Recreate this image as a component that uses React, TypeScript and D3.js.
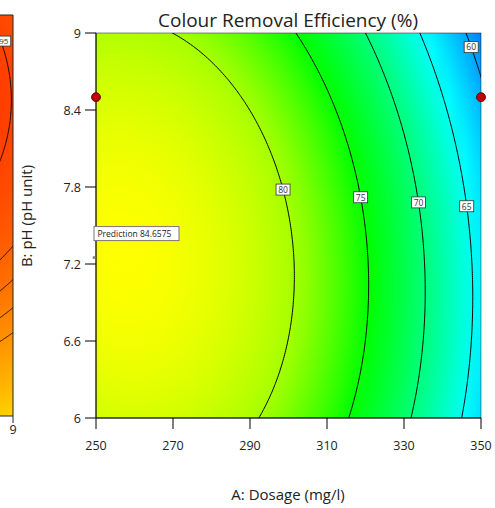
import React from "react";
import * as d3 from "d3";

// Axis ticks
const dosageTicks = [250, 270, 290, 310, 330, 350];
const phTicks = [6, 6.6, 7.2, 7.8, 8.4, 9];

// Contour levels and the pH at which each level carries its label
const contourLevels = [60, 65, 70, 75, 80];
const labelPH = [8.89, 7.65, 7.68, 7.72, 7.78];

// Quadratic model in coded factors (A: dosage, B: pH)
const modelTerms = ["Intercept", "A", "B", "AB", "A²", "B²"];
const modelCoefficients = [80.11, -10.47, -1.6, -0.72, -6.02, -3.07];

// Design points and prediction flag
const designDosage = [250, 350];
const designPH = [8.5, 8.5];
const predictionDosage = 250;
const predictionPH = 7.25;
const predictionValue = 84.6575;

// Colour ramp
const colorValues = [52, 64.5, 75, 80, 84.8, 97];
const colorStops = ["#0000ff", "#00ffff", "#00ff00", "#a6ff00", "#ffff00", "#ff0000"];

// Neighbouring panel: peak, centre u, centre v, curvature (coded units)
const sideCoefficients = [101, 0.184, 0.576, 9.2];
const sideLevels = [95, 90, 87.5, 85, 82.5];
const sideLabelV = 0.87;
const sideColorValues = [70, 96];
const sideColorStops = ["#ffe100", "#ff3c00"];
const sideTicks = [9];

const W = 495;
const H = 508;
const P = { left: 96, right: 481, top: 33, bottom: 418 };
const FONT = "'Open Sans', 'Noto Sans', sans-serif";

const xScale = d3.scaleLinear().domain([250, 350]).range([P.left, P.right]);
const yScale = d3.scaleLinear().domain([6, 9]).range([P.bottom, P.top]);
const codeA = (a: number) => (a - 300) / 50;
const codeB = (b: number) => (b - 7.5) / 1.5;

const basis = (x: number, y: number) => [1, x, y, x * y, x * x, y * y];
const predict = (a: number, b: number) =>
  basis(codeA(a), codeB(b)).reduce((s, v, i) => s + v * modelCoefficients[i], 0);

const colorScale = d3
  .scaleLinear<string>()
  .domain(colorValues)
  .range(colorStops)
  .interpolate(d3.interpolateRgb)
  .clamp(true);

// Neighbouring panel geometry (coded u, v in [-1, 1])
const sideX = d3.scaleLinear().domain([-1, 1]).range([-372, 13]);
const sideY = d3.scaleLinear().domain([-1, 1]).range([416, 15]);
const sidePredict = (u: number, v: number) => {
  const [peak, cu, cv, k] = sideCoefficients;
  return peak - k * ((u - cu) ** 2 + (v - cv) ** 2);
};
const sideColor = d3
  .scaleLinear<string>()
  .domain(sideColorValues)
  .range(sideColorStops)
  .interpolate(d3.interpolateRgb)
  .clamp(true);

function dosageOnLevel(level: number, ph: number) {
  let lo = 240, hi = 360;
  for (let i = 0; i < 60; i++) {
    const mid = (lo + hi) / 2;
    if (predict(mid, ph) > level) lo = mid;
    else hi = mid;
  }
  return (lo + hi) / 2;
}

export default function App() {
  // main response grid
  const gx0 = 245, gx1 = 355, gy0 = 5.85, gy1 = 9.15;
  const nx = 221, ny = 221;
  const dx = (gx1 - gx0) / (nx - 1);
  const dy = (gy1 - gy0) / (ny - 1);
  const values: number[] = new Array(nx * ny);
  for (let j = 0; j < ny; j++)
    for (let i = 0; i < nx; i++) values[i + j * nx] = predict(gx0 + i * dx, gy0 + j * dy);
  const contours = d3.contours().size([nx, ny]).thresholds(contourLevels)(values);
  const proj = d3.geoTransform({
    point(px: number, py: number) {
      (this as any).stream.point(xScale(gx0 + (px - 0.5) * dx), yScale(gy0 + (py - 0.5) * dy));
    },
  });
  const path = d3.geoPath(proj);

  // neighbouring panel grid
  const su0 = 0.92, su1 = 1.06, sv0 = -1.06, sv1 = 1.06;
  const snx = 57, sny = 213;
  const sdu = (su1 - su0) / (snx - 1);
  const sdv = (sv1 - sv0) / (sny - 1);
  const svals: number[] = new Array(snx * sny);
  for (let j = 0; j < sny; j++)
    for (let i = 0; i < snx; i++) svals[i + j * snx] = sidePredict(su0 + i * sdu, sv0 + j * sdv);
  const sideContours = d3.contours().size([snx, sny]).thresholds(sideLevels)(svals);
  const sproj = d3.geoTransform({
    point(px: number, py: number) {
      (this as any).stream.point(sideX(su0 + (px - 0.5) * sdu), sideY(sv0 + (py - 0.5) * sdv));
    },
  });
  const spath = d3.geoPath(sproj);

  const rowH = 2;
  const rows = d3.range(P.top, P.bottom, rowH);
  const stopT = d3.range(0, 1.0001, 1 / 24);
  const sideRows = d3.range(15, 416, rowH);

  const sideLabelU = (() => {
    const [peak, cu, cv, k] = sideCoefficients;
    const r2 = (peak - sideLevels[0]) / k;
    return cu + Math.sqrt(Math.max(0, r2 - (sideLabelV - cv) ** 2));
  })();

  const predX = xScale(predictionDosage);
  const predY = yScale(predictionPH);

  return (
    <svg width={W} height={H} style={{ position: "absolute", left: 0, top: 0, background: "#fff" }} fontFamily={FONT}>
      <defs>
        <clipPath id="plot-clip">
          <rect x={P.left} y={P.top} width={P.right - P.left} height={P.bottom - P.top} />
        </clipPath>
        <clipPath id="side-clip">
          <rect x={0} y={15} width={13} height={401} />
        </clipPath>
        {rows.map((r, i) => {
          const ph = yScale.invert(r + rowH / 2);
          return (
            <linearGradient id={`row-${i}`} key={i} x1="0" x2="1" y1="0" y2="0">
              {stopT.map((t, k) => (
                <stop key={k} offset={t} stopColor={colorScale(predict(250 + t * 100, ph))} />
              ))}
            </linearGradient>
          );
        })}
        {sideRows.map((r, i) => {
          const v = sideY.invert(r + rowH / 2);
          return (
            <linearGradient id={`side-row-${i}`} key={i} x1="0" x2="1" y1="0" y2="0">
              {[0, 0.5, 1].map((t, k) => (
                <stop key={k} offset={t} stopColor={sideColor(sidePredict(sideX.invert(t * 13), v))} />
              ))}
            </linearGradient>
          );
        })}
      </defs>

      {/* neighbouring panel */}
      <g clipPath="url(#side-clip)">
        {sideRows.map((r, i) => (
          <rect key={i} x={0} y={r} width={13} height={rowH + 0.6} fill={`url(#side-row-${i})`} />
        ))}
        {sideContours.map((c, i) => (
          <path key={i} d={spath(c as any) || ""} fill="none" stroke="#000" strokeWidth={0.9} />
        ))}
        <g transform={`translate(${sideX(sideLabelU) + 3},${sideY(sideLabelV)})`}>
          <rect x={-7} y={-5} width={14} height={10} fill="#fff" stroke="#333" strokeWidth={0.8} />
          <text textAnchor="middle" y={3} fontSize={8} fill="#333">{sideLevels[0]}</text>
        </g>
      </g>
      <line x1={0} x2={13} y1={15} y2={15} stroke="#222" />
      <line x1={0} x2={13} y1={416} y2={416} stroke="#222" />
      <line x1={13} x2={13} y1={15} y2={416} stroke="#222" />
      {sideTicks.map((t) => (
        <g key={t}>
          <line x1={13} x2={13} y1={416} y2={423} stroke="#222" />
          <text x={13} y={434} textAnchor="middle" fontSize={12.5} fill="#222">{t}</text>
        </g>
      ))}

      {/* response surface */}
      <g clipPath="url(#plot-clip)">
        {rows.map((r, i) => (
          <rect key={i} x={P.left} y={r} width={P.right - P.left} height={rowH + 0.6} fill={`url(#row-${i})`} />
        ))}
        {contours.map((c, i) => (
          <path key={i} d={path(c as any) || ""} fill="none" stroke="#000" strokeWidth={1} />
        ))}
      </g>
      <rect x={P.left} y={P.top} width={P.right - P.left} height={P.bottom - P.top} fill="none" stroke="#000" strokeOpacity={0.45} />

      {/* contour labels */}
      {contourLevels.map((lv, i) => {
        const cx = xScale(dosageOnLevel(lv, labelPH[i]));
        const cy = yScale(labelPH[i]);
        return (
          <g key={lv} transform={`translate(${cx},${cy})`}>
            <rect x={-7} y={-5.5} width={14} height={11} fill="#fff" stroke="#333" strokeWidth={0.8} />
            <text textAnchor="middle" y={3.3} fontSize={8.5} fill="#333">{lv}</text>
          </g>
        );
      })}

      {/* axes */}
      <line x1={P.left} x2={P.left} y1={P.top} y2={P.bottom} stroke="#000" />
      <line x1={P.left} x2={P.right} y1={P.bottom} y2={P.bottom} stroke="#000" />
      {phTicks.map((t) => (
        <g key={t}>
          <line x1={P.left - 11} x2={P.left} y1={yScale(t)} y2={yScale(t)} stroke="#000" />
          <text x={81} y={yScale(t) + 4.5} textAnchor="end" fontSize={12.5} fill="#222">{t}</text>
        </g>
      ))}
      {dosageTicks.map((t) => (
        <g key={t}>
          <line x1={xScale(t)} x2={xScale(t)} y1={P.bottom} y2={P.bottom + 11} stroke="#000" />
          <text x={xScale(t)} y={450} textAnchor="middle" fontSize={12.5} fill="#222">{t}</text>
        </g>
      ))}

      {/* design points */}
      {designDosage.map((a, i) => (
        <circle key={i} cx={xScale(a)} cy={yScale(designPH[i])} r={4.5} fill="#c00000" stroke="#400" strokeWidth={0.8} />
      ))}

      {/* prediction flag */}
      <circle cx={predX - 2} cy={predY} r={1.5} fill="#888" />
      <rect x={predX - 2} y={predY - 31} width={85} height={14} fill="#fff" stroke="#777" strokeWidth={1} />
      <text x={predX + 1.5} y={predY - 20.5} fontSize={8.5} fill="#222">Prediction</text>
      <text x={predX + 44} y={predY - 20.5} fontSize={8.5} fill="#222">{predictionValue}</text>

      {/* titles */}
      <text x={288} y={26.5} textAnchor="middle" fontSize={19} fill="#222">Colour Removal Efficiency (%)</text>
      <text x={288} y={500} textAnchor="middle" fontSize={15} fill="#222">A: Dosage (mg/l)</text>
      <text transform="translate(32,216) rotate(-90)" textAnchor="middle" fontSize={15} fill="#222">B: pH (pH unit)</text>
    </svg>
  );
}
